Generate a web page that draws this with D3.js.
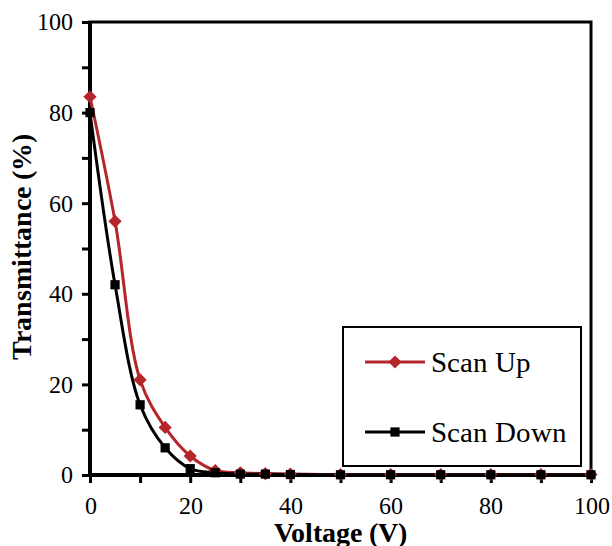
<!DOCTYPE html>
<html>
<head>
<meta charset="utf-8">
<script src="https://cdnjs.cloudflare.com/ajax/libs/d3/7.8.5/d3.min.js"></script>
<style>
  @font-face { font-family: "ChartSerif"; src: local("Liberation Serif"), local("LiberationSerif"), local("Times New Roman"), local("Tinos"), local("DejaVu Serif"); }
  @font-face { font-family: "ChartSerif"; font-weight: bold; src: local("Liberation Serif Bold"), local("LiberationSerif-Bold"), local("Times New Roman Bold"), local("DejaVu Serif Bold"); }
  body { margin: 0; background: #fff; }
</style>
</head>
<body>
<script>
// data
var voltage = [0, 5, 10, 15, 20, 25, 30, 35, 40, 50, 60, 70, 80, 90, 100];
var scanUp = [83.5, 56, 21, 10.5, 4.2, 1.0, 0.5, 0.3, 0.2, 0.1, 0.1, 0.1, 0.1, 0.1, 0.1];
var scanDown = [80, 42, 15.5, 6, 1.4, 0.5, 0.2, 0.2, 0.1, 0.05, 0.05, 0.05, 0.05, 0.05, 0.05];
var seriesNames = ["Scan Up", "Scan Down"];
var xTicks = [0, 20, 40, 60, 80, 100];
var yTicks = [0, 20, 40, 60, 80, 100];

var svgWidth = 612, svgHeight = 546;
var margin = {top: 22, right: 21, bottom: 71, left: 90};
var width = svgWidth - margin.left - margin.right;
var height = svgHeight - margin.top - margin.bottom;
var red = "#b5262b";
var serif = "ChartSerif, 'Liberation Serif', 'Times New Roman', Tinos, 'DejaVu Serif', serif";

var svg = d3.select("body").append("svg")
  .attr("width", svgWidth)
  .attr("height", svgHeight)
  .style("font-family", serif);

var chartGroup = svg.append("g")
  .attr("transform", `translate(${margin.left}, ${margin.top})`);

var x = d3.scaleLinear().domain([0, 100]).range([0, width]);
var y = d3.scaleLinear().domain([0, 100]).range([height, 0]);

// minor ticks every 10
var xAxis = d3.axisBottom(x).tickValues(d3.range(0, 101, 10)).tickSizeInner(8).tickSizeOuter(0)
  .tickFormat(d => xTicks.indexOf(d) >= 0 ? d : "");
var yAxis = d3.axisLeft(y).tickValues(d3.range(0, 101, 10)).tickSizeInner(8).tickSizeOuter(0)
  .tickFormat(d => yTicks.indexOf(d) >= 0 ? d : "");

var gx = chartGroup.append("g")
  .attr("transform", `translate(0, ${height})`)
  .call(xAxis);
var gy = chartGroup.append("g").call(yAxis);

[gx, gy].forEach(function(g) {
  g.attr("font-family", null).attr("font-size", 24);
  g.select(".domain").remove();
  g.selectAll(".tick line").attr("stroke", "#000").attr("stroke-width", 3);
  g.selectAll(".tick text").attr("fill", "#000");
});
gx.selectAll(".tick text").attr("dy", "1.15em");
gy.selectAll(".tick text").attr("dx", "-0.25em").attr("dy", "0.33em");

// plot frame
chartGroup.append("rect")
  .attr("x", 0).attr("y", 0)
  .attr("width", width).attr("height", height)
  .attr("fill", "none")
  .attr("stroke", "#000")
  .attr("stroke-width", 3);
// heavier axis lines on left and bottom
chartGroup.append("line")
  .attr("x1", 0).attr("x2", 0).attr("y1", 0).attr("y2", height)
  .attr("stroke", "#000").attr("stroke-width", 4);
chartGroup.append("line")
  .attr("x1", -1).attr("x2", width).attr("y1", height).attr("y2", height)
  .attr("stroke", "#000").attr("stroke-width", 4);

var line = d3.line()
  .x((d, i) => x(voltage[i]))
  .y(d => y(d))
  .curve(d3.curveCatmullRom.alpha(0.5));

var diamond = d3.symbol().type(d3.symbolDiamond2).size(110);
var square = d3.symbol().type(d3.symbolSquare).size(85);

// Scan Up (red)
chartGroup.append("path")
  .datum(scanUp)
  .attr("d", line)
  .attr("fill", "none")
  .attr("stroke", red)
  .attr("stroke-width", 3);

// Scan Down (black)
chartGroup.append("path")
  .datum(scanDown)
  .attr("d", line)
  .attr("fill", "none")
  .attr("stroke", "#000")
  .attr("stroke-width", 3);

chartGroup.selectAll(".up")
  .data(scanUp)
  .enter()
  .append("path")
  .attr("class", "up")
  .attr("d", diamond)
  .attr("fill", red)
  .attr("transform", (d, i) => `translate(${x(voltage[i])}, ${y(d)})`);

chartGroup.selectAll(".down")
  .data(scanDown)
  .enter()
  .append("path")
  .attr("class", "down")
  .attr("d", square)
  .attr("fill", "#000")
  .attr("transform", (d, i) => `translate(${x(voltage[i])}, ${y(d)})`);

// legend
var legend = svg.append("g").attr("transform", "translate(343, 327)");
legend.append("rect")
  .attr("width", 238).attr("height", 139)
  .attr("fill", "#fff")
  .attr("stroke", "#000")
  .attr("stroke-width", 2);

var legendRows = legend.selectAll(".row")
  .data(seriesNames)
  .enter()
  .append("g")
  .attr("transform", (d, i) => `translate(22, ${35 + i * 70})`);

legendRows.append("line")
  .attr("x1", 0).attr("x2", 60)
  .attr("stroke", (d, i) => i == 0 ? red : "#000")
  .attr("stroke-width", 3);
legendRows.append("path")
  .attr("d", (d, i) => i == 0 ? diamond() : square())
  .attr("transform", "translate(30, 0)")
  .attr("fill", (d, i) => i == 0 ? red : "#000");
legendRows.append("text")
  .attr("x", 66)
  .attr("dy", "0.33em")
  .attr("font-size", 29)
  .text(d => d);

// axis titles
svg.append("text")
  .attr("transform", "rotate(-90)")
  .attr("x", -(margin.top + height / 2) + 2)
  .attr("y", 31)
  .attr("text-anchor", "middle")
  .attr("font-size", 28)
  .attr("font-weight", "bold")
  .text("Transmittance (%)");

svg.append("text")
  .attr("x", 340)
  .attr("y", 542)
  .attr("text-anchor", "middle")
  .attr("font-size", 28)
  .attr("font-weight", "bold")
  .text("Voltage (V)");
</script>
</body>
</html>
